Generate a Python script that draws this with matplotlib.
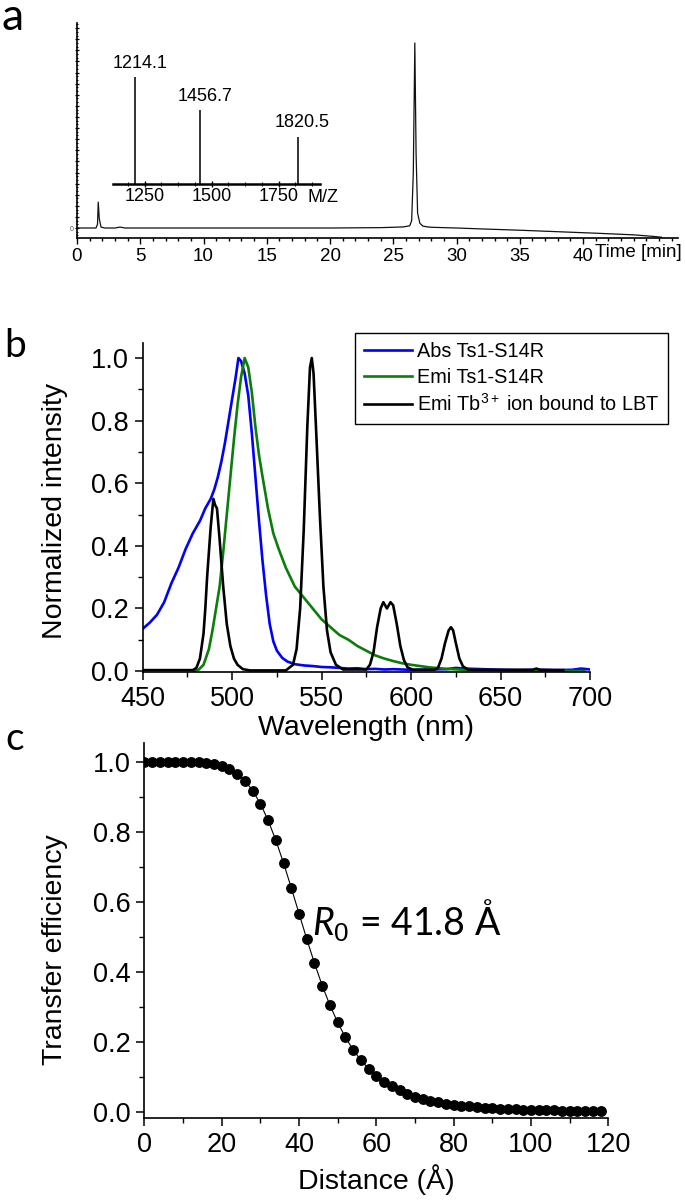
import matplotlib
matplotlib.use('Agg')
import matplotlib.pyplot as plt
from matplotlib import ticker

plt.rcParams['font.family'] = ['Liberation Sans', 'DejaVu Sans']
plt.rcParams['mathtext.fontset'] = 'custom'
plt.rcParams['mathtext.rm'] = 'Liberation Sans'
plt.rcParams['mathtext.it'] = 'Lato:italic'

# ---- panel a: HPLC trace (time in min, normalised signal)
chrom_t = [0, 0.5, 1.0, 1.5, 1.62, 1.68, 1.76, 1.9, 2.2, 3.0, 3.4, 3.8, 6, 10, 15, 20, 24,
           25, 25.8, 26.3, 26.45, 26.58, 26.7, 26.8, 26.92, 27.1, 27.35, 27.7, 28, 30,
           32, 35, 38, 41, 44, 45.5, 46.2]
chrom_v = [0, 0, 0, 0, 0.02, 0.14, 0.05, 0.005, 0, 0, 0.005, 0, 0, 0, 0, 0, 0.002,
           0.004, 0.006, 0.012, 0.04, 0.3, 1.0, 0.4, 0.08, 0.025, 0.01, 0.006, 0.004, 0,
           -0.005, -0.012, -0.02, -0.028, -0.037, -0.045, -0.05]

# inset: mass spectrum
ms_mz = [1214.1, 1456.7, 1820.5]
ms_int = [1.0, 0.69, 0.44]
ms_labels = ['1214.1', '1456.7', '1820.5']

# ---- panel b: spectra
abs_wl = [450, 454, 458, 462, 466, 470, 474, 478, 482, 485, 488, 490, 492, 494, 496, 498,
          500, 502, 503.5, 505, 507, 509, 511, 513, 515, 517, 519, 521, 523, 525, 528,
          531, 535, 540, 545, 550, 555, 560, 565, 570, 575, 580, 585, 590, 600, 610,
          620, 625, 630, 640, 650, 660, 670, 680, 690, 695, 700]
abs_val = [0.135, 0.155, 0.18, 0.22, 0.28, 0.33, 0.39, 0.44, 0.48, 0.52, 0.55, 0.58,
           0.62, 0.67, 0.73, 0.80, 0.87, 0.94, 1.00, 0.99, 0.95, 0.88, 0.76, 0.62, 0.48,
           0.35, 0.24, 0.15, 0.095, 0.065, 0.042, 0.03, 0.022, 0.018, 0.016, 0.013,
           0.012, 0.010, 0.008, 0.009, 0.006, 0.007, 0.005, 0.006, 0.004, 0.005, 0.006,
           0.010, 0.008, 0.006, 0.004, 0.003, 0.004, 0.003, 0.004, 0.008, 0.005]

emi_wl = [478, 481, 484, 487, 489, 491, 493, 495, 497, 499, 501, 503, 505, 507, 509, 511,
          513, 515, 517, 520, 523, 526, 530, 535, 540, 545, 550, 555, 560, 565, 570,
          575, 580, 585, 590, 595, 600, 610, 620, 630, 640, 660, 680, 697]
emi_val = [0.0, 0.003, 0.02, 0.07, 0.13, 0.20, 0.27, 0.38, 0.50, 0.62, 0.74, 0.85, 0.94,
           1.00, 0.97, 0.89, 0.78, 0.69, 0.62, 0.52, 0.44, 0.39, 0.33, 0.27, 0.235, 0.20,
           0.165, 0.14, 0.115, 0.10, 0.08, 0.065, 0.05, 0.04, 0.032, 0.025, 0.02, 0.012,
           0.007, 0.004, 0.003, 0.001, 0.0, 0.0]

tb_wl = [450, 478, 480, 482, 484, 485, 486, 488, 489.5, 490.5, 491.5, 493, 495, 497, 499,
         501, 503, 506, 510, 530, 534, 536, 538, 540, 542, 543.5, 544.5, 545.5, 547, 549,
         551, 553, 555, 558, 562, 575, 577, 579, 581, 583, 584.5, 586.5, 588.5, 590, 592,
         594, 596, 598, 601, 613, 615, 617, 619, 621, 622.3, 623.5, 625, 627, 629, 632,
         668, 670, 672, 685]
tb_val = [0.003, 0.003, 0.01, 0.04, 0.12, 0.20, 0.30, 0.46, 0.55, 0.53, 0.52, 0.42, 0.27,
          0.15, 0.08, 0.04, 0.02, 0.006, 0.002, 0.002, 0.02, 0.07, 0.20, 0.45, 0.78, 0.97,
          1.00, 0.95, 0.76, 0.50, 0.27, 0.13, 0.06, 0.02, 0.005, 0.005, 0.02, 0.06, 0.14,
          0.20, 0.22, 0.20, 0.22, 0.21, 0.15, 0.08, 0.035, 0.012, 0.004, 0.004, 0.01, 0.04,
          0.09, 0.13, 0.14, 0.13, 0.09, 0.04, 0.015, 0.004, 0.004, 0.008, 0.004, 0.003]

# ---- panel c: FRET efficiency vs distance
fret_r = list(range(0, 120, 2))
fret_e = [1.000, 1.000, 1.000, 1.000, 1.000, 1.000, 0.999, 0.999, 0.997, 0.994,
          0.988, 0.979, 0.965, 0.945, 0.917, 0.880, 0.832, 0.775, 0.710, 0.639,
          0.566, 0.493, 0.424, 0.360, 0.304, 0.255, 0.212, 0.177, 0.147, 0.123,
          0.103, 0.086, 0.072, 0.061, 0.051, 0.043, 0.037, 0.031, 0.027, 0.023,
          0.020, 0.017, 0.015, 0.013, 0.011, 0.010, 0.009, 0.008, 0.007, 0.006,
          0.005, 0.005, 0.004, 0.004, 0.003, 0.003, 0.003, 0.002, 0.002, 0.002]

W, H = 685, 1201
fig = plt.figure(figsize=(W / 100, H / 100), dpi=100)


def px_axes(left, top, right, bottom):
    # axes placed by pixel box (origin top-left)
    return fig.add_axes([left / W, 1 - bottom / H, (right - left) / W, (bottom - top) / H])


# ================= panel a
axa = px_axes(77, 23, 678, 238)
axa.plot(chrom_t, chrom_v, color='#111111', lw=0.9)
axa.set_xlim(0, 47.5)
axa.set_ylim(-0.054, 1.108)
for s in ['top', 'right']:
    axa.spines[s].set_visible(False)
for s in ['left', 'bottom']:
    axa.spines[s].set_linewidth(1.2)
axa.set_xticks(range(0, 45, 5))
axa.xaxis.set_minor_locator(ticker.MultipleLocator(1))
axa.yaxis.set_major_locator(ticker.MultipleLocator(0.06))
axa.yaxis.set_minor_locator(ticker.MultipleLocator(0.02))
axa.yaxis.set_major_formatter(ticker.FuncFormatter(lambda v, p: '0' if abs(v) < 1e-9 else ''))
axa.tick_params(axis='x', which='major', direction='out', length=4, width=1, labelsize=13.5, pad=3)
axa.tick_params(axis='x', which='minor', direction='out', length=2.5, width=1)
axa.tick_params(axis='y', which='major', direction='inout', length=3.5, width=0.9,
                labelsize=5, labelcolor='#555555', pad=1)
axa.tick_params(axis='y', which='minor', direction='inout', length=2, width=0.7)
axa.text(40.95, -0.068, 'Time [min]', transform=axa.get_xaxis_transform(),
         ha='left', va='center', fontsize=13.5)

# inset mass spectrum
axi = px_axes(113, 60, 320, 184)
axi.vlines(ms_mz, 0, ms_int, color='#111111', lw=1.2)
for mz, h, lab in zip(ms_mz, ms_int, ms_labels):
    axi.annotate(lab, (mz, h), xytext=(3.5, 4), textcoords='offset points',
                 ha='center', va='bottom', fontsize=13)
axi.set_xlim(1132, 1904)
axi.set_ylim(0, 1.16)
axi.patch.set_alpha(0)
for s in ['top', 'right', 'left']:
    axi.spines[s].set_visible(False)
axi.spines['bottom'].set_linewidth(1.8)
axi.set_yticks([])
axi.set_xticks([1250, 1500, 1750])
axi.xaxis.set_minor_locator(ticker.AutoMinorLocator(4))
axi.tick_params(axis='x', which='major', direction='inout', length=4, width=1, labelsize=13, pad=1)
axi.tick_params(axis='x', which='minor', direction='inout', length=2.5, width=0.8)
axi.text(1.015, -0.105, 'M/Z', transform=axi.transAxes, ha='center', va='center', fontsize=13)

# ================= panel b
axb = px_axes(142.7, 343, 590, 672)
axb.plot(abs_wl, abs_val, color='#0000ff', lw=1.9, label='Abs Ts1-S14R')
axb.plot(emi_wl, emi_val, color='#0a7d0a', lw=1.9, label='Emi Ts1-S14R')
axb.plot(tb_wl, tb_val, color='black', lw=1.9, label='Emi Tb$^{3+}$ ion bound to LBT')
axb.set_xlim(450, 700)
axb.set_ylim(-0.003, 1.048)
axb.xaxis.set_major_locator(ticker.MultipleLocator(50))
axb.xaxis.set_minor_locator(ticker.MultipleLocator(25))
axb.yaxis.set_major_locator(ticker.MultipleLocator(0.2))
axb.yaxis.set_minor_locator(ticker.MultipleLocator(0.1))
axb.yaxis.set_major_formatter(ticker.FormatStrFormatter('%.1f'))
axb.set_xlabel('Wavelength (nm)', fontsize=20.5, va='center')
axb.xaxis.set_label_coords(0.5, -0.17)
axb.set_ylabel('Normalized intensity', fontsize=20.5, va='center')
axb.yaxis.set_label_coords(-0.196, 0.49)
leg = fig.legend(loc='upper left', bbox_to_anchor=(355 / W, 1 - 333 / H), borderaxespad=0,
                 fontsize=14.3, handlelength=2.4, handletextpad=0.25, labelspacing=0.35,
                 borderpad=0.45, fancybox=False, framealpha=1)
leg.get_frame().set_edgecolor('black')
leg.get_frame().set_linewidth(1.0)

# ================= panel c
axc = px_axes(144.4, 743, 608.3, 1118)
axc.plot(fret_r, fret_e, color='black', lw=0.8, marker='o', ms=6.8, mfc='black', mec='black')
axc.set_xlim(0, 120)
axc.set_ylim(-0.018, 1.053)
axc.xaxis.set_major_locator(ticker.MultipleLocator(20))
axc.xaxis.set_minor_locator(ticker.MultipleLocator(10))
axc.yaxis.set_major_locator(ticker.MultipleLocator(0.2))
axc.yaxis.set_minor_locator(ticker.MultipleLocator(0.1))
axc.yaxis.set_major_formatter(ticker.FormatStrFormatter('%.1f'))
axc.set_xlabel('Distance (Å)', fontsize=20.5, va='center')
axc.xaxis.set_label_coords(0.5, -0.165)
axc.set_ylabel('Transfer efficiency', fontsize=20.5, va='center')
axc.yaxis.set_label_coords(-0.193, 0.448)
axc.text(67.9, 0.548, '$R_{\\mathit{0}}$ = 41.8 Å', family='Lato', fontsize=27,
         ha='center', va='center')

for ax in (axb, axc):
    for s in ['top', 'right']:
        ax.spines[s].set_visible(False)
    for s in ['left', 'bottom']:
        ax.spines[s].set_linewidth(1.2)
    ax.tick_params(which='major', direction='out', length=6, width=1.1, labelsize=19.5, pad=4)
    ax.tick_params(which='minor', direction='out', length=3.5, width=1.0)

# panel letters
fig.text(13 / W, 1 - 30 / H, 'a', family='Lato', fontsize=32, ha='center', va='baseline')
fig.text(15 / W, 1 - 357 / H, 'b', family='Lato', fontsize=28, ha='center', va='baseline')
fig.text(15 / W, 1 - 750 / H, 'c', family='Lato', fontsize=28, ha='center', va='baseline')

fig.savefig('out.png', dpi=100)
